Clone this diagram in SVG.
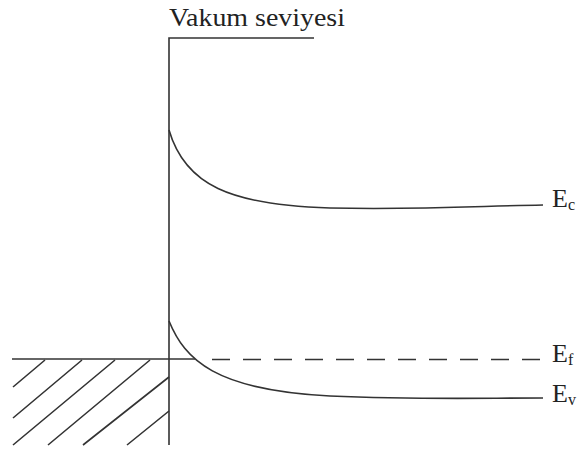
<svg xmlns="http://www.w3.org/2000/svg" width="582" height="453" viewBox="0 0 582 453">
<style>
.ln{fill:none;stroke:#333;stroke-width:1.6}
.t{font-family:'Liberation Serif','Times New Roman','DejaVu Serif',serif;fill:#222}
</style>
<rect width="582" height="453" fill="#fff"/>
<g id="connectors">
<path class="ln" d="M169,445 V38 H314"/>
<path class="ln" d="M12,359 H195"/>
<path class="ln" d="M212,359.5 H541" stroke-dasharray="18 13"/>
<path class="ln" d="M169,130 C185,185 230,205 330,208 C420,210 480,206 543,205"/>
<path class="ln" d="M169,321 C185,360 215,390 330,396 C420,400 480,398 543,398"/>
<path class="ln" d="M13,387 L45,360 M13,418 L82,360 M13,445 L115,360 M48,445 L150,360 M83,445 L169,377 M127,445 L169,411"/>
</g>
<g id="vakum"><text class="t" x="169" y="26" font-size="25.5" textLength="176" lengthAdjust="spacingAndGlyphs">Vakum seviyesi</text></g>
<g id="Ec"><text class="t" x="552" y="207" font-size="26">E<tspan font-size="16" dy="3">c</tspan></text></g>
<g id="Ef"><text class="t" x="552" y="362" font-size="26">E<tspan font-size="16" dy="3">f</tspan></text></g>
<g id="Ev"><text class="t" x="552" y="402" font-size="26">E<tspan font-size="16" dy="3">v</tspan></text></g>
</svg>
